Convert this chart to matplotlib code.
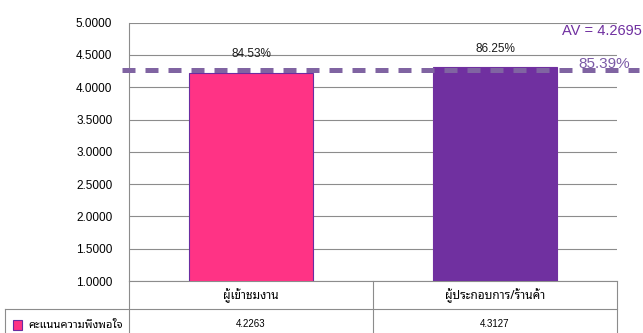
import matplotlib
matplotlib.use("Agg")
import matplotlib.pyplot as plt
import matplotlib.transforms as mtransforms
import numpy as np

# satisfaction scores per respondent group
categories = ["ผู้เข้าชมงาน", "ผู้ประกอบการ/ร้านค้า"]
scores = [4.2263, 4.3127]
series_name = "คะแนนความพึงพอใจ"
average = 4.2695
full_score = 5.0
yticks = [1.0, 1.5, 2.0, 2.5, 3.0, 3.5, 4.0, 4.5, 5.0]

BAR_COLORS = ["#FF3385", "#7030A0"]
GRID = "#8C8C8C"
AV_LINE = "#8064A2"
AV_TEXT = "#7030A0"
NUM_FONT = ["Liberation Sans", "DejaVu Sans"]
THAI_FONT = ["Noto Sans Thai Looped", "Noto Sans Thai", "DejaVu Sans"]

plt.rcParams["font.family"] = NUM_FONT

fig = plt.figure(figsize=(6.43, 3.33), dpi=100)
ax = fig.add_axes([129 / 643, 1 - 281 / 333, 488 / 643, (281 - 22.7) / 333])

x = np.arange(len(categories))
ax.bar(x, scores, width=0.51, color=BAR_COLORS, bottom=0,
       edgecolor=["#6A2CA0", BAR_COLORS[1]], linewidth=0.8, zorder=3)

ax.set_xlim(-0.5, len(categories) - 0.5)
ax.set_ylim(1.0, 5.0)
ax.set_yticks(yticks)
ax.set_yticklabels([f"{v:.4f}" for v in yticks], fontsize=8.5)
ax.tick_params(axis="y", length=0, pad=12)
ax.set_xticks([])
ax.yaxis.grid(True, color=GRID, linewidth=0.8, zorder=0)
ax.set_axisbelow(True)
for side in ["top", "right", "bottom"]:
    ax.spines[side].set_visible(False)
ax.spines["left"].set_color(GRID)
ax.spines["left"].set_linewidth(0.8)

# percentage of the full score above each bar
for xi, v in zip(x, scores):
    ax.text(xi, v + 0.285, f"{v / full_score * 100:.2f}%", ha="center",
            va="center", fontsize=8.5, color="#1A1A1A", zorder=5)

# average line, running a little past the plot area on both sides
hline = mtransforms.blended_transform_factory(ax.transAxes, ax.transData)
ax.plot([-0.015, 1.045], [average, average], transform=hline, clip_on=False,
        color=AV_LINE, linewidth=3.6, dashes=(2.6, 2.0), zorder=4)
ax.text(0.887, 4.87, f"AV = {average:.4f}", transform=hline, clip_on=False,
        color=AV_TEXT, fontsize=10.5, ha="left", va="center")
ax.text(0.92, 4.36, f"{average / full_score * 100:.2f}%", transform=hline,
        clip_on=False, color="#7B5AA6", fontsize=11, ha="left", va="center")

# data table under the plot
tx = ax.get_xaxis_transform()
ta = ax.transAxes
row_top = 0.0
row_mid = -28 / 258.3
row_bot = -60 / 258.3
line_kw = dict(color=GRID, linewidth=0.8, clip_on=False)
ax.plot([0, 1], [row_top, row_top], transform=ta, **line_kw)
ax.plot([-124 / 488, 1], [row_mid, row_mid], transform=ta, **line_kw)
ax.plot([0, 0], [row_bot, row_top], transform=ta, **line_kw)
ax.plot([-124 / 488, -124 / 488], [row_bot, row_mid], transform=ta, **line_kw)
for b in x[1:]:
    ax.plot([b - 0.5, b - 0.5], [row_bot, row_top], transform=tx, **line_kw)
ax.plot([1, 1], [row_bot, row_top], transform=ta, **line_kw)

for xi, name, v in zip(x, categories, scores):
    ax.text(xi, (row_top + row_mid) / 2 - 0.004, name, transform=tx,
            ha="center", va="center", fontsize=8.5, fontweight="bold",
            family=THAI_FONT)
    ax.text(xi, (row_mid + row_bot) / 2 + 0.005, f"{v:.4f}", transform=tx,
            ha="center", va="center", fontsize=7)

ax.add_patch(plt.Rectangle((-116 / 488, (row_mid + row_bot) / 2 - 0.019),
                           9 / 488, 0.038, transform=ta, clip_on=False,
                           facecolor=BAR_COLORS[0], edgecolor="#6A2CA0",
                           linewidth=0.8))
ax.text(-101 / 488, (row_mid + row_bot) / 2, series_name, transform=ta,
        ha="left", va="center", fontsize=8, fontweight="bold",
        family=THAI_FONT)

fig.savefig("out.png", dpi=100)
